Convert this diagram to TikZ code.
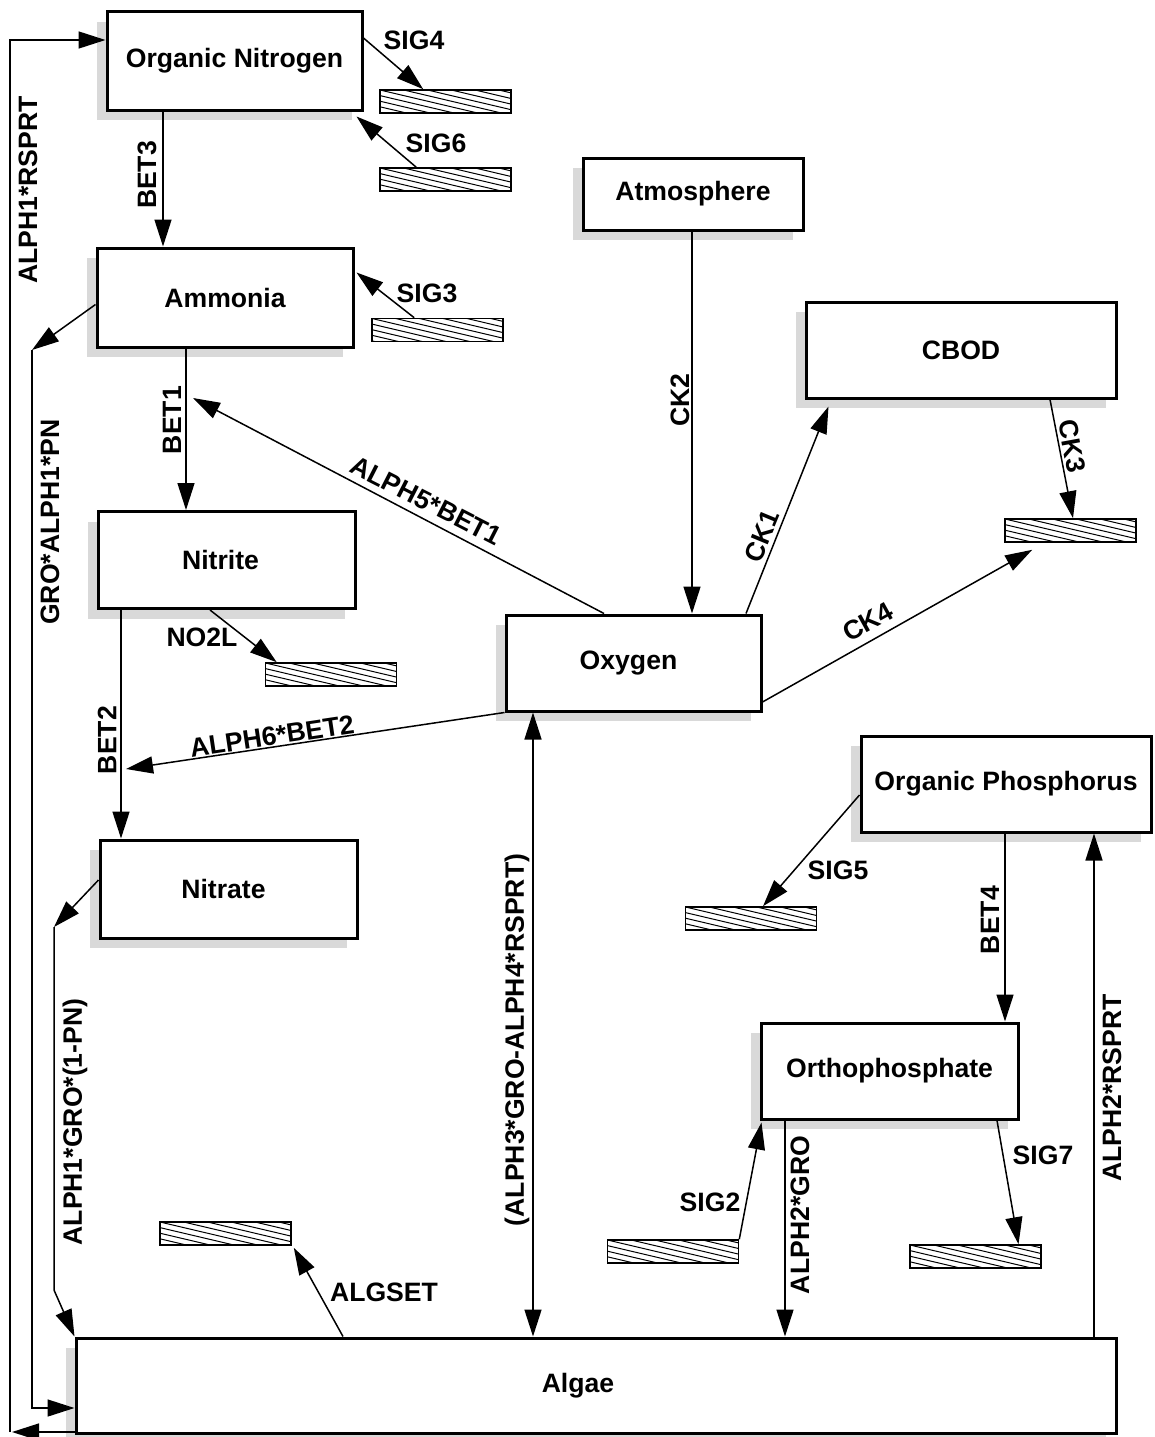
\documentclass[tikz,border=0pt]{standalone}
\usepackage{fontspec}
\setmainfont{Liberation Sans}
\usetikzlibrary{arrows.meta,shadows}
\begin{document}
\begin{tikzpicture}[x=1pt,y=-1pt,
  txt/.style={font=\fontsize{26.6}{30}\selectfont\bfseries, inner sep=0pt},
  box/.style={txt, draw, line width=3pt, fill=white,
    drop shadow={shadow xshift=-10pt, shadow yshift=-10pt, fill=black!15, opacity=1}},
  sink/.style={draw, line width=1.6pt, minimum width=131pt, minimum height=23pt, inner sep=0pt, fill=white,
    path picture={\foreach \k in {-6,...,5}{\draw[line width=1pt] ([yshift={-\k*5.6pt}]path picture bounding box.north west) -- ++(140pt,-33pt);}}},
  arr/.style={draw, line width=1.5pt, -{Triangle[length=27pt,width=17pt]}},
  darr/.style={draw, line width=1.5pt, {Triangle[length=27pt,width=17pt]}-{Triangle[length=27pt,width=17pt]}},
  lbl/.style={txt}]
\useasboundingbox (0,0) rectangle (1154,1437);
\fill[white] (0,0) rectangle (1154,1437);

% boxes
\node[box, minimum width=255pt, minimum height=98pt] (on) at (234.5,61) {Organic Nitrogen};
\node[box, minimum width=256pt, minimum height=99pt] (amm) at (225,297.5) {Ammonia};
\node[box, minimum width=257pt, minimum height=97pt] (nit) at (226.5,560) {\hspace*{-12pt}Nitrite};
\node[box, minimum width=257pt, minimum height=98pt] (nat) at (228.5,889) {\hspace*{-10pt}Nitrate};
\node[box, minimum width=255pt, minimum height=96pt] (oxy) at (633.5,663) {\hspace*{-10pt}Oxygen};
\node[box, minimum width=220pt, minimum height=72pt] (atm) at (693,194) {Atmosphere};
\node[box, minimum width=310pt, minimum height=96pt] (cbod) at (961,350) {CBOD};
\node[box, minimum width=290pt, minimum height=96pt] (op) at (1006,784) {Organic Phosphorus};
\node[box, minimum width=257pt, minimum height=96pt] (orth) at (889.5,1071) {Orthophosphate};
\node[box, minimum width=1040pt, minimum height=95pt] (alg) at (596,1385.5) {\hspace*{-36pt}Algae};

% sinks / sources
\node[sink] (s4) at (445.5,101.5) {};
\node[sink] (s6) at (445.5,179.5) {};
\node[sink] (s3) at (437.5,330) {};
\node[sink] (sck3) at (1070.5,530.5) {};
\node[sink] (sno2) at (331,674.5) {};
\node[sink] (s5) at (751,918.5) {};
\node[sink] (salg) at (225.5,1233.5) {};
\node[sink] (s2) at (673,1251.5) {};
\node[sink] (s7) at (975.5,1256.5) {};

% free corners
\coordinate (c1) at (10,1432);
\coordinate (c2) at (32,350);
\coordinate (c3) at (54,927);
\coordinate (c4) at (54,1290);
\coordinate (c5) at (193,398);
\coordinate (c6) at (126,769);

% connectors
\draw[arr] (alg.west |- c1) -- ([xshift=2pt]c1);
\draw[arr] (c1) |- ([yshift=21pt]on.west);
\draw[arr] ([yshift=-7pt]amm.west) -- (c2);
\draw[arr] (c2) |- ([yshift=-22.5pt]alg.west);
\draw[arr] ([yshift=9pt]nat.west) -- (c3);
\draw[arr] (c3) -- (c4) -- (alg.north west);

\draw[arr] ([yshift=23pt]on.east) -- ([xshift=44pt]s4.north west);
\draw[arr] ([xshift=37pt]s6.north west) -- ([xshift=-7pt,yshift=-5pt]on.south east);
\draw[arr] ([xshift=-71.5pt]on.south) -- ([xshift=-71.5pt]on.south |- amm.north);
\draw[arr] ([xshift=43pt]s3.north west) -- ([xshift=2pt,yshift=25pt]amm.east);
\draw[arr] ([xshift=-39pt]amm.south) -- ([xshift=-39pt]amm.south |- nit.north);
\draw[arr] ([xshift=-29.5pt]oxy.north) -- (c5);
\draw[arr] ([xshift=-16.5pt]nit.south) -- ([xshift=12pt]sno2.north west);
\draw[arr] ([xshift=-105.5pt]nit.south) -- ([xshift=-105.5pt]nit.south |- nat.north);
\draw[arr] (oxy.south west) -- (c6);
\draw[arr] ([xshift=-1pt]atm.south) -- ([xshift=-1pt]atm.south |- oxy.north);
\draw[arr] ([xshift=112.5pt]oxy.north) -- ([xshift=24pt,yshift=-7pt]cbod.south west);
\draw[arr] ([xshift=89pt]cbod.south) -- ([xshift=2.5pt]sck3.north);
\draw[arr] ([yshift=-39pt]oxy.east) -- ([xshift=28pt,yshift=-7pt]sck3.south west);
\draw[darr] ([xshift=-100.5pt]oxy.south) -- ([xshift=-100.5pt]oxy.south |- alg.north);
\draw[arr] ([yshift=-11pt]op.west) -- ([xshift=12pt]s5.north);
\draw[arr] ([xshift=-1pt]op.south) -- ([xshift=-1pt]op.south |- orth.north);
\draw[arr] ([xshift=498pt]alg.north) -- ([xshift=498pt]alg.north |- op.south);
\draw[arr] (s2.north east) -- ([xshift=2pt,yshift=-2pt]orth.south west);
\draw[arr] ([xshift=-104.5pt]orth.south) -- ([xshift=-104.5pt]orth.south |- alg.north);
\draw[arr] ([xshift=107.5pt]orth.south) -- ([xshift=43pt]s7.north);
\draw[arr] ([xshift=-253pt]alg.north) -- ([xshift=2pt,yshift=-2pt]salg.south east);

% labels
\node[lbl, rotate=90] (l1) at (28,190) {ALPH1*RSPRT};
\node[lbl, rotate=90] (l2) at (147,175) {BET3};
\node[lbl] (l3) at (414,40) {SIG4};
\node[lbl] (l4) at (436,143) {SIG6};
\node[lbl] (l5) at (427,293) {SIG3};
\node[lbl, rotate=90] (l6) at (50,522) {GRO*ALPH1*PN};
\node[lbl, rotate=90] (l7) at (172,420) {BET1};
\node[lbl, rotate=-27] (l8) at (426,501) {ALPH5*BET1};
\node[lbl] (l9) at (202,637) {NO2L};
\node[lbl, rotate=90] (l10) at (107,740) {BET2};
\node[lbl, rotate=8.5] (l11) at (272,736) {ALPH6*BET2};
\node[lbl, rotate=90] (l12) at (680,400) {CK2};
\node[lbl, rotate=67.5] (l13) at (762,536) {CK1};
\node[lbl, rotate=-79.6] (l14) at (1072,446) {CK3};
\node[lbl, rotate=29] (l15) at (868,622) {CK4};
\node[lbl, rotate=90] (l16) at (517,1040) {(ALPH3*GRO-ALPH4*RSPRT)};
\node[lbl] (l17) at (838,870) {SIG5};
\node[lbl, rotate=90] (l18) at (990,920) {BET4};
\node[lbl] (l19) at (710,1202) {SIG2};
\node[lbl, rotate=90] (l20) at (800,1215) {ALPH2*GRO};
\node[lbl] (l21) at (1043,1155) {SIG7};
\node[lbl, rotate=90] (l22) at (1112,1088) {ALPH2*RSPRT};
\node[lbl] (l23) at (384,1292) {ALGSET};
\node[lbl, rotate=90] (l24) at (75,1122) {ALPH1*GRO*(1-PN)};
\end{tikzpicture}
\end{document}
